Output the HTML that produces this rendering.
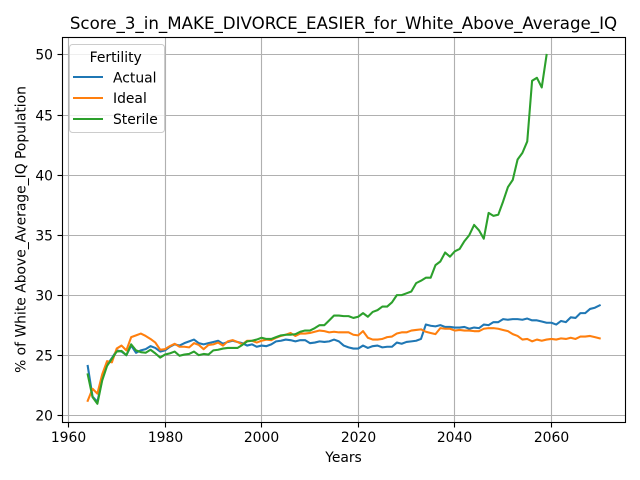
<!DOCTYPE html>
<html>
<head>
<meta charset="utf-8">
<style>
html,body{margin:0;padding:0;background:#fff;}
svg{display:block;font-family:"DejaVu Sans",sans-serif;}
</style>
</head>
<body>
<svg id="chart" width="640" height="480" viewBox="0 0 640 480" xmlns="http://www.w3.org/2000/svg">
<rect width="640" height="480" fill="#fff"/>
<g id="grid"></g>
<g id="series"></g>
<g id="axes"></g>
<text x="343.5" y="29" font-size="16.67" text-anchor="middle" fill="#000">Score_3_in_MAKE_DIVORCE_EASIER_for_White_Above_Average_IQ</text>
<text x="343.5" y="462" font-size="13.89" text-anchor="middle" fill="#000">Years</text>
<text transform="translate(25.5,229.5) rotate(-90)" font-size="13.89" text-anchor="middle" fill="#000">% of White Above_Average_IQ Population</text>
<g>
<rect x="69.5" y="44.5" width="95" height="88" rx="3" fill="#fff" fill-opacity="0.8" stroke="#ccc" stroke-width="1"/>
<text x="115.7" y="62" font-size="13.89" text-anchor="middle" fill="#000">Fertility</text>
<line x1="73" x2="103" y1="77" y2="77" stroke="#1f77b4" stroke-width="2.08"/>
<text x="113" y="82.5" font-size="13.89" fill="#000">Actual</text>
<line x1="73" x2="103" y1="98" y2="98" stroke="#ff7f0e" stroke-width="2.08"/>
<text x="113" y="103" font-size="13.89" fill="#000">Ideal</text>
<line x1="73" x2="103" y1="119" y2="119" stroke="#2ca02c" stroke-width="2.08"/>
<text x="113" y="124" font-size="13.89" fill="#000">Sterile</text>
</g>
</svg>
<script>
const startYear = 1964;
const xTickLabels = [1960, 1980, 2000, 2020, 2040, 2060];
const yTickLabels = [20, 25, 30, 35, 40, 45, 50];
const actualValues = [24.1,21.55,21.1,23,24.2,24.75,25.4,25.3,25,25.8,25.2,25.4,25.5,25.75,25.6,25.3,25.4,25.7,25.9,25.8,26,26.15,26.3,26,25.9,26,26.1,26.2,25.95,26.1,26.2,26.1,26,25.8,25.9,25.7,25.8,25.75,25.9,26.15,26.2,26.3,26.25,26.15,26.25,26.25,26,26.05,26.15,26.1,26.15,26.3,26.15,25.8,25.65,25.55,25.55,25.8,25.6,25.75,25.8,25.65,25.7,25.7,26.05,25.95,26.1,26.15,26.2,26.35,27.55,27.45,27.4,27.5,27.35,27.35,27.3,27.3,27.35,27.2,27.3,27.25,27.55,27.5,27.75,27.75,28,27.95,28,28,27.95,28.05,27.9,27.9,27.8,27.7,27.7,27.55,27.85,27.75,28.15,28.1,28.5,28.5,28.85,28.95,29.15];
const idealValues = [21.2,22.2,21.8,23.4,24.5,24.4,25.55,25.8,25.4,26.5,26.65,26.8,26.6,26.35,26.05,25.45,25.5,25.75,25.95,25.7,25.7,25.65,26,25.85,25.5,25.85,25.9,26.05,25.8,26.15,26.25,26.1,25.9,26.2,26.2,26.05,26.2,26.3,26.25,26.45,26.6,26.7,26.85,26.6,26.8,26.8,26.85,26.95,27.05,27,26.9,26.95,26.9,26.9,26.9,26.7,26.65,27,26.45,26.3,26.3,26.35,26.5,26.55,26.8,26.9,26.9,27.05,27.1,27.15,26.95,26.85,26.75,27.25,27.2,27.2,27.05,27.1,27.05,27.05,27,27,27.2,27.25,27.25,27.2,27.1,27,26.75,26.6,26.3,26.35,26.15,26.3,26.2,26.3,26.35,26.3,26.4,26.35,26.45,26.35,26.55,26.55,26.6,26.5,26.4];
const sterileValues = [23.4,21.5,20.95,22.9,24.1,24.7,25.3,25.35,25,25.9,25.4,25.25,25.2,25.45,25.15,24.8,25.05,25.15,25.3,24.95,25.05,25.1,25.3,25,25.1,25.05,25.4,25.45,25.55,25.6,25.6,25.6,25.85,26.15,26.2,26.3,26.45,26.35,26.35,26.5,26.65,26.7,26.7,26.75,26.95,27.05,27.05,27.25,27.5,27.5,27.9,28.3,28.3,28.25,28.25,28.1,28.2,28.5,28.2,28.6,28.75,29.05,29.05,29.4,30,30,30.15,30.3,31,31.2,31.45,31.45,32.5,32.8,33.55,33.2,33.65,33.85,34.5,35,35.85,35.4,34.7,36.85,36.6,36.7,37.8,39,39.6,41.3,41.85,42.8,47.85,48.1,47.3,50];

const NS = 'http://www.w3.org/2000/svg';
const plot = {left: 62.5, right: 625.5, top: 37.5, bottom: 422.5};
function xScale(year) { return 68.4 + (year - 1960) * 4.83; }
function yScale(value) { return 415.2 - (value - 20) * 12.007; }
function crisp(v) { return Math.floor(v) + 0.5; }
function make(tag, attrs, parent) {
  const el = document.createElementNS(NS, tag);
  Object.keys(attrs).forEach(function (k) { el.setAttribute(k, attrs[k]); });
  parent.appendChild(el);
  return el;
}
const gridG = document.getElementById('grid');
const axesG = document.getElementById('axes');
const seriesG = document.getElementById('series');

xTickLabels.forEach(function (t) {
  const x = crisp(xScale(t));
  const g = make('line', {x1: x, x2: x, y1: plot.top, y2: plot.bottom, stroke: '#b0b0b0', 'stroke-width': 1.11}, gridG);
  
  
  const tick = make('line', {x1: x, x2: x, y1: plot.bottom, y2: plot.bottom + 5, stroke: '#000', 'stroke-width': 1.11}, axesG);
  
  
  const label = make('text', {x: x, y: 442, 'font-size': 13.89, 'text-anchor': 'middle', fill: '#000'}, axesG);
  
  
  label.textContent = t;
});
yTickLabels.forEach(function (t) {
  const y = crisp(yScale(t));
  const g = make('line', {x1: plot.left, x2: plot.right, y1: y, y2: y, stroke: '#b0b0b0', 'stroke-width': 1.11}, gridG);
  
  
  const tick = make('line', {x1: plot.left - 5, x2: plot.left, y1: y, y2: y, stroke: '#000', 'stroke-width': 1.11}, axesG);
  
  
  const label = make('text', {x: 53, y: y + 5, 'font-size': 13.89, 'text-anchor': 'end', fill: '#000'}, axesG);
  
  
  label.textContent = t;
});
function drawSeries(values, color, name) {
  const pts = values.map(function (v, i) {
    return xScale(startYear + i).toFixed(2) + ',' + yScale(v).toFixed(2);
  }).join(' ');
  const line = make('polyline', {points: pts, fill: 'none', stroke: color, 'stroke-width': 2.08, 'stroke-linejoin': 'round', 'stroke-linecap': 'square'}, seriesG);
  
  
}
drawSeries(actualValues, '#1f77b4', 'series-actual');
drawSeries(idealValues, '#ff7f0e', 'series-ideal');
drawSeries(sterileValues, '#2ca02c', 'series-sterile');
const frame = make('rect', {x: plot.left, y: plot.top, width: plot.right - plot.left, height: plot.bottom - plot.top, fill: 'none', stroke: '#000', 'stroke-width': 1.11}, axesG);


</script>
</body>
</html>
